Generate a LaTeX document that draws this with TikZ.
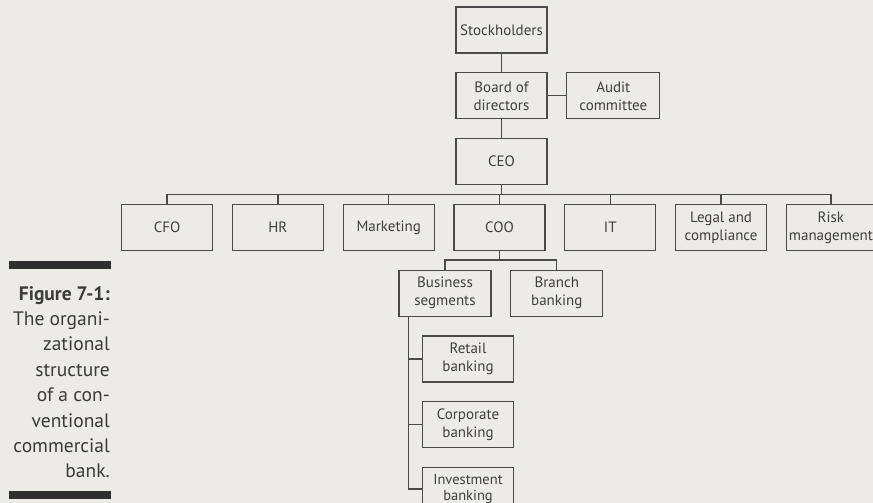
\documentclass[tikz,border=0pt]{standalone}
\usepackage{fontspec}
\usetikzlibrary{positioning}
\newfontfamily\chartfont{PT Sans}
\definecolor{paper}{HTML}{ECEBE7}
\definecolor{ink}{HTML}{4A4A4A}
\definecolor{bar}{HTML}{2E2E2E}
\tikzset{
	unitbox/.style={draw=ink, line width=1.3pt, text=ink!85!black, minimum width=91pt, minimum height=46pt,
		inner sep=0pt, align=center, font=\chartfont\fontsize{15}{18}\selectfont},
	wire/.style={draw=ink, line width=1.3pt},
}

\begin{document}
\begin{tikzpicture}[x=1pt, y=-1pt, node distance=18.5pt]
	\useasboundingbox (0,0) rectangle (873,503);
	\fill[paper] (0,0) rectangle (873,503);

	% top of the chart
	\node[unitbox] (stock) at (501.5,30) {Stockholders};
	\node[unitbox, below=of stock] (board) {Board of\\directors};
	\node[unitbox, right=of board, minimum width=93pt] (audit) {Audit\\committee};
	\node[unitbox, below=of board] (ceo) {CEO};

	% officers
	\node[unitbox, below=of ceo, xshift=-2pt] (coo) {COO};
	\node[unitbox, left=of coo] (mkt) {Marketing};
	\node[unitbox, left=of mkt] (hr) {HR};
	\node[unitbox, left=of hr] (cfo) {CFO};
	\node[unitbox, right=of coo] (it) {IT};
	\node[unitbox, right=of it] (legal) {Legal and\\compliance};
	\node[unitbox, right=of legal, minimum width=89pt] (risk) {Risk\\management};

	% under the COO
	\node[unitbox, below=of coo, xshift=-54.5pt, minimum width=92pt] (bizseg) {Business\\segments};
	\node[unitbox, right=of bizseg, minimum width=92pt] (branch) {Branch\\banking};
	\node[unitbox, below=of bizseg, xshift=23pt] (retail) {Retail\\banking};
	\node[unitbox, below=of retail] (corp) {Corporate\\banking};
	\node[unitbox, below=of corp, minimum height=43pt,
		font=\chartfont\fontsize{14.5}{16}\selectfont] (invest) {Investment\\banking};

	\path[wire] (stock) -- (board);
	\path[wire] (board) -- (audit);
	\path[wire] (board) -- (ceo);

	\coordinate (bus) at ([yshift=-9pt]ceo.south);
	\path[wire] (ceo.south) -- (bus);
	\path[wire] (cfo.north) |- (bus) -| (risk.north);
	\foreach \n in {hr,mkt,coo,it,legal}
		\path[wire] (\n.north) -- (\n.north |- bus);

	\coordinate (subbus) at ([yshift=-9pt]coo.south);
	\path[wire] (coo.south) -- (subbus);
	\path[wire] (bizseg.north) |- (subbus) -| (branch.north);

	\coordinate (trunk) at ([xshift=10pt]bizseg.south west);
	\path[wire] (trunk) |- (invest.west);
	\foreach \n in {retail,corp}
		\path[wire] (trunk |- \n.west) -- (\n.west);

	% caption at the left
	\fill[bar] (9,261) rectangle (111,269);
	\fill[bar] (9,491) rectangle (111,499);
	\node[anchor=north east, inner sep=0pt, align=right, text=ink!80!black,
		font=\chartfont\fontsize{19.5}{25.4}\selectfont] (caption) at (110,286)
		{\textbf{Figure 7-1:}\\The organi-\\zational\\structure\\of a con-\\ventional\\commercial\\bank.};
\end{tikzpicture}
\end{document}
